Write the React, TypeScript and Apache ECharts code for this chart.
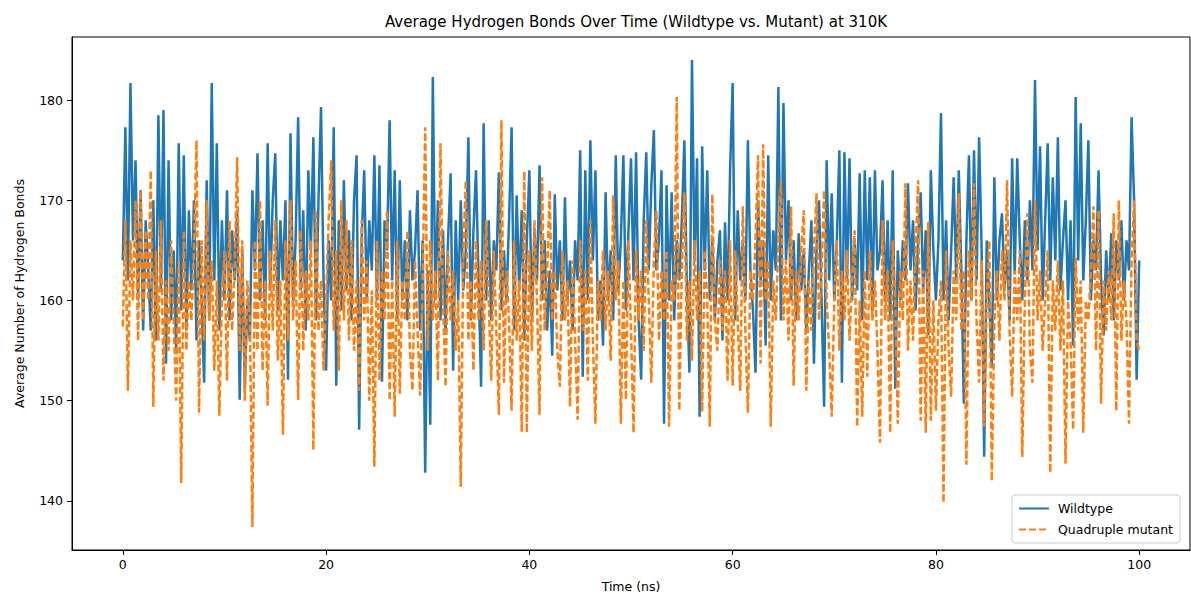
import React, { useEffect, useRef } from "react";
import * as echarts from "echarts";

// Sampling step of the simulation trace (ns)
const TIME_STEP_NS = 0.25;

// Average number of hydrogen bonds, wildtype (one value per 0.25 ns, 0..100 ns)
const wildtype: number[] = [
  164, 177.3, 162, 181.7, 166, 174, 160, 171, 157, 168,
  163, 157, 170, 156, 178.5, 161, 179, 153.7, 174, 158,
  165, 155, 175.7, 159, 174.5, 157, 169, 161, 170, 156,
  166, 160, 151.8, 172, 158, 181.7, 162, 175.7, 157, 168,
  160, 171, 158, 167, 162, 169, 150.1, 165, 151.3, 160,
  156, 171, 163, 174.7, 160, 168, 158, 175.7, 161, 170,
  174.7, 159, 168, 162, 170, 152.1, 176.7, 160, 166, 178.3,
  161, 169, 157, 173, 165, 176.3, 158, 170, 179.3, 162,
  153, 166, 160, 177.3, 151.5, 168, 159, 172, 161, 167,
  158, 170, 174.5, 147.1, 166, 173, 160, 168, 163, 174.5,
  160, 173.5, 151.9, 168, 165, 178, 162, 173, 158, 172,
  160, 166, 158, 169, 162, 165, 171, 157, 166, 142.8,
  163, 147.6, 182.3, 160, 170, 158, 167, 157, 166, 172.7,
  153, 168, 160, 170, 161, 165, 176.3, 158, 167, 173,
  162, 151.4, 177.7, 160, 168, 158, 166, 163, 172.8, 159,
  165, 160, 168, 177.3, 157, 170.5, 161, 169, 156, 166,
  173, 158, 167, 162, 173.5, 160, 166, 157, 163, 154.5,
  170.6, 161, 166, 158, 170.3, 160, 164, 157, 166, 162,
  175, 152.4, 173, 160, 176, 164, 173, 158, 162, 155.5,
  170.8, 160, 165, 158, 174.5, 161, 166, 174.5, 159, 167,
  174.2, 162, 174.8, 158, 152.1, 168, 174.8, 163, 171.5, 177,
  163, 166, 173, 147.7, 171.5, 160, 170.8, 158, 166, 162,
  168, 176, 161, 152.8, 184, 164, 174.2, 148.4, 175.4, 163,
  173, 160, 166, 158, 164, 167, 156, 167.8, 160, 173,
  181.7, 158, 169, 162, 166, 160, 176, 163, 159, 152.8,
  170, 162, 166, 155.5, 174.5, 160, 167, 163, 181.3, 158,
  179.7, 164, 170, 160, 166, 158, 166.7, 161, 165, 157,
  163, 168, 153.7, 165, 170, 160, 149.4, 174, 162, 170.7,
  160, 166, 175, 151.8, 174.8, 162, 174.2, 160, 166, 161,
  172.7, 158, 173, 162, 172.3, 159, 173, 163, 165, 172,
  160, 168, 158, 173, 151.2, 165, 160, 166, 162, 171.7,
  163, 168, 159, 166, 170.8, 161, 167, 156.5, 173, 165,
  160, 166, 178.7, 160, 168, 158, 165, 172.3, 162, 173,
  163, 149.7, 166, 174.5, 160, 175, 162, 176.3, 165, 144.4,
  166, 160, 153.3, 172.3, 160, 166, 168.7, 161, 165, 158,
  174.2, 162.6, 174.2, 166, 160, 168, 162, 170, 163, 182,
  165, 175.4, 160, 168, 175.7, 162, 172.3, 164, 176.3, 161,
  166, 170, 160, 168, 155.5, 180.3, 164, 177.7, 162, 168,
  176, 160, 166, 163, 173, 162, 156.5, 165, 160, 166.7,
  158, 166, 162, 168, 160, 166, 163, 178.3, 170, 152.1,
  164,
];

// Average number of hydrogen bonds, quadruple mutant (one value per 0.25 ns)
const quadrupleMutant: number[] = [
  157.4, 168, 151, 166, 160, 170, 156, 171, 158, 167,
  160, 173, 149.4, 165, 156, 168, 152, 162, 155, 166,
  158, 150, 164, 141.8, 167, 155, 162, 158, 165, 176,
  148.8, 166, 156, 170, 158, 164, 153, 162, 148.5, 160,
  165, 152, 168, 157, 163, 174.3, 155, 166, 150, 162,
  158, 137.4, 166, 155, 170, 153, 162, 149.5, 165, 157,
  168, 154, 162, 146.6, 166, 156, 170, 158, 164, 150.1,
  167, 155, 163, 158, 166, 145.1, 169, 157, 162, 153,
  160, 168, 174, 157, 165, 153, 170, 158, 168, 156,
  166, 155, 162, 151, 168, 158, 164, 150, 161, 143.4,
  166, 152, 163, 158, 169, 150, 162, 148.4, 166, 150.7,
  162, 158, 167, 155, 151, 164, 157, 150.5, 162, 177.3,
  155, 166, 158, 163, 152, 175.7, 160, 151.4, 165, 158,
  163, 155, 160, 141.4, 165, 172, 156, 162, 153, 166,
  158, 164, 155, 168, 160, 152, 165, 157, 148.6, 178,
  151.8, 163, 158, 149, 166, 156, 162, 146.9, 172.9, 146.8,
  165, 155, 168, 160, 148.6, 172.3, 157, 163, 171, 158,
  163, 155, 151.4, 165, 158, 162, 149.4, 164, 156, 148.1,
  166, 157, 163, 152, 168, 156, 147.7, 162, 158, 165,
  157, 163, 154, 170.5, 160, 164, 147.7, 162, 150.1, 166,
  157, 146.8, 165, 158, 163, 155, 168, 160, 151.8, 164,
  169, 156, 163, 158, 165, 147.4, 162, 160, 180.3, 149,
  163, 170.8, 156, 162, 154, 166, 158, 163, 148.9, 165,
  160, 147.4, 170.6, 158, 155, 164, 157, 163, 152, 166,
  151.5, 165, 158, 151, 169.4, 157, 148.8, 163, 160, 166,
  174.5, 153.7, 175.6, 160, 164, 147.4, 162, 158, 166, 172,
  158, 164, 156, 169.4, 151.5, 163, 158, 165, 169, 151,
  162, 157, 165, 170.7, 158, 163, 171, 160, 155, 148.4,
  160, 166, 155, 163, 158, 165, 156, 162, 167, 147.4,
  160, 148.4, 163, 152.4, 165, 158, 162, 155, 145.8, 168,
  158, 163, 146.8, 166, 160, 147.7, 163, 158, 171.7, 155,
  162, 156, 165, 172, 148, 163, 146.8, 167.8, 148, 160,
  149, 158, 162, 139.8, 165, 155, 150.4, 163, 158, 170.7,
  157, 163, 143.6, 165, 160, 171.7, 158, 151.8, 164, 147.4,
  160, 166, 142, 158, 163, 156, 165, 160, 172, 157,
  150.4, 163, 158, 165, 144.4, 160, 168.7, 155, 151.8, 170,
  158, 163, 155, 160, 165, 142.8, 162, 157, 164, 155,
  162, 143.7, 160, 156, 147.1, 164.3, 157, 162, 146.8, 160,
  158, 163, 169.4, 155, 169, 149.7, 162, 157, 163, 158,
  168.7, 149, 170, 156, 162, 158, 147.7, 164, 170, 156,
  155,
];

const xTicks = [0, 20, 40, 60, 80, 100];
const yTicks = [140, 150, 160, 170, 180];

const TITLE = "Average Hydrogen Bonds Over Time (Wildtype vs. Mutant) at 310K";
const X_NAME = "Time (ns)";
const Y_NAME = "Average Number of Hydrogen Bonds";
const SERIES_NAMES = ["Wildtype", "Quadruple mutant"];

const FONT = "DejaVu Sans";

function toPairs(values: number[]): [number, number][] {
  return values.map((v, i) => [i * TIME_STEP_NS, v]);
}

export default function App() {
  const ref = useRef<HTMLDivElement>(null);

  useEffect(() => {
    if (!ref.current) return;
    const chart = echarts.init(ref.current, undefined, { renderer: "svg" });
    const axisCommon = {
      axisLine: { show: true, onZero: false, lineStyle: { color: "#000", width: 1 } },
      axisTick: { show: true, inside: false, length: 5, lineStyle: { color: "#000", width: 1 } },
      splitLine: { show: false },
      nameTextStyle: { fontFamily: FONT, fontSize: 12.5, color: "#000" },
    };
    chart.setOption({
      animation: false,
      backgroundColor: "#ffffff",
      title: {
        text: TITLE,
        left: 631,
        top: 9,
        textAlign: "center",
        textStyle: { fontFamily: FONT, fontSize: 15, fontWeight: "normal", color: "#000" },
      },
      grid: {
        left: 72,
        right: 1,
        top: 37,
        bottom: 44,
        show: true,
        borderColor: "#000",
        borderWidth: 1,
        backgroundColor: "transparent",
        containLabel: false,
        outerBoundsMode: "none",
      },
      legend: {
        orient: "vertical",
        left: 1012,
        top: 495,
        padding: [7, 7, 7, 6],
        itemWidth: 30,
        itemHeight: 12,
        itemGap: 8,
        backgroundColor: "rgba(255,255,255,0.85)",
        borderColor: "#cccccc",
        borderWidth: 1,
        borderRadius: 3,
        itemStyle: { opacity: 0 },
        textStyle: { fontFamily: FONT, fontSize: 12.5, color: "#000", padding: [0, 0, 0, 4] },
        data: SERIES_NAMES,
      },
      xAxis: {
        type: "value",
        min: -5,
        max: 105,
        name: X_NAME,
        nameLocation: "middle",
        nameGap: 30,
        ...axisCommon,
        axisTick: { ...axisCommon.axisTick, customValues: xTicks },
        axisLabel: {
          customValues: xTicks,
          margin: 8,
          fontFamily: FONT,
          fontSize: 12.5,
          color: "#000",
        },
      },
      yAxis: {
        type: "value",
        min: 135.1,
        max: 186.3,
        name: Y_NAME,
        nameLocation: "middle",
        nameGap: 46,
        nameRotate: 90,
        ...axisCommon,
        axisTick: { ...axisCommon.axisTick, customValues: yTicks },
        axisLabel: {
          customValues: yTicks,
          margin: 9,
          fontFamily: FONT,
          fontSize: 12.5,
          color: "#000",
        },
      },
      series: [
        {
          name: SERIES_NAMES[0],
          type: "line",
          data: toPairs(wildtype),
          showSymbol: false,
          symbol: "none",
          lineStyle: { color: "#1f77b4", width: 2.5 },
          itemStyle: { color: "#1f77b4" },
          z: 2,
        },
        {
          name: SERIES_NAMES[1],
          type: "line",
          data: toPairs(quadrupleMutant),
          showSymbol: false,
          symbol: "none",
          lineStyle: { color: "#ff7f0e", width: 2.5, type: [7, 3] },
          itemStyle: { color: "#ff7f0e" },
          z: 3,
        },
      ],
    });
    return () => chart.dispose();
  }, []);

  return (
    <div
      ref={ref}
      style={{ position: "absolute", left: 0, top: 0, width: 1191, height: 594, background: "#fff" }}
    />
  );
}
